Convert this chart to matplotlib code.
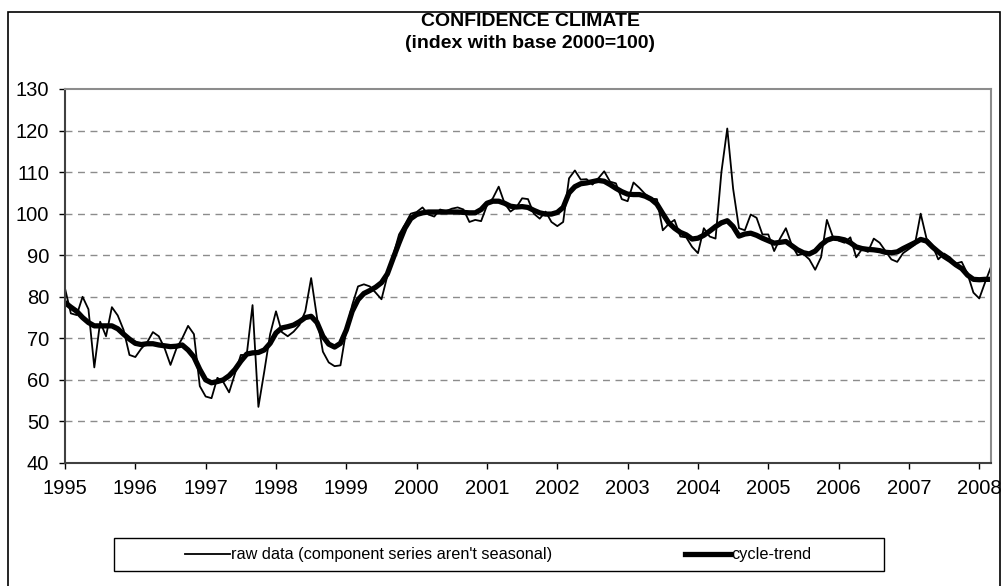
import numpy as np
import matplotlib as mpl
mpl.use('Agg')
import matplotlib.pyplot as plt
from matplotlib.patches import Rectangle
from matplotlib.lines import Line2D

plt.rc('font', family='Liberation Sans')

# monthly values, Jan 1995 .. Mar 2008
raw_data = [
    82, 76, 75.6, 80, 77, 63, 74, 70.5, 77.5, 75.5, 72, 66,
    65.5, 67.5, 69, 71.5, 70.5, 67.6, 63.6, 67.5, 70, 73, 71, 58.5,
    56, 55.6, 60.5, 59.5, 57, 61.5, 66, 66, 78, 53.5, 62, 71,
    76.5, 71.5, 70.5, 71.6, 73.2, 76.5, 84.5, 75, 66.8, 64.2, 63.3, 63.5,
    72, 78, 82.5, 83, 82.5, 81, 79.4, 85, 90, 95, 97.4, 100,
    100.4, 101.5, 99.8, 99.3, 101, 100.6, 101.2, 101.5, 101, 98, 98.5, 98.2,
    102, 103.7, 106.5, 102.5, 100.5, 101.5, 103.7, 103.5, 100, 98.8, 100.5, 98,
    97, 98, 108.5, 110.4, 108.2, 108.3, 107, 108.5, 110.2, 107.7, 107.3, 103.5,
    103, 107.5, 106.2, 104.7, 103.6, 103.5, 96, 97.5, 98.5, 94.5, 94.3, 92,
    90.5, 96.5, 94.5, 94, 110, 120.5, 106, 96.5, 96, 99.8, 99, 95,
    95, 91, 94, 96.5, 92.5, 90, 90.3, 89, 86.5, 89.5, 98.5, 94.5,
    93.5, 93, 94.3, 89.5, 91.5, 90.8, 94, 93, 91, 89, 88.4, 90.5,
    91.5, 92.5, 100, 94, 92.4, 89, 90.4, 89.5, 88, 88.4, 85.5, 81,
    79.6, 83.5, 87.2,
]

cycle_trend = [
    78.6, 77.5, 76.5, 75, 73.8, 73, 73, 73, 73, 72.3, 71, 69.8,
    68.8, 68.5, 68.7, 68.7, 68.4, 68.2, 68, 68.1, 68.4, 67.2, 65.5, 62.5,
    60, 59.3, 59.6, 60, 61, 62.5, 64.5, 66.2, 66.5, 66.6, 67.2, 68.8,
    71.3, 72.5, 72.8, 73.2, 74, 75, 75.3, 73.8, 70.5, 68.6, 67.9, 68.8,
    72, 76.5, 79.3, 80.8, 81.5, 82.3, 83.4, 85.5, 89.3, 93, 96.5, 98.8,
    99.8, 100.2, 100.4, 100.4, 100.4, 100.4, 100.4, 100.4, 100.3, 100.2, 100.2, 101,
    102.5, 103, 103, 102.5, 101.8, 101.6, 101.7, 101.5, 100.8, 100.2, 99.9, 99.9,
    100.3, 101.5, 105, 106.5, 107.2, 107.4, 107.7, 108, 107.8, 107, 106.1, 105.3,
    104.7, 104.6, 104.6, 104.2, 103.5, 102.3, 100, 97.8, 96.5, 95.5, 94.9, 93.9,
    94.1, 94.8, 95.8, 96.9, 97.8, 98.3, 96.9, 94.6, 95.1, 95.3, 94.8, 94.1,
    93.5, 92.9, 93.1, 93.3, 92.3, 91.3, 90.6, 90.3, 91, 92.5, 93.6, 94.1,
    94, 93.7, 93, 92, 91.6, 91.4, 91.3, 91.1, 90.7, 90.6, 90.8, 91.6,
    92.3, 93, 93.8, 93.4, 92, 90.8, 89.7, 88.8, 87.7, 86.8, 85.2, 84.2,
    84.1, 84.2, 84.2,
]

years = list(range(1995, 2009))
months = np.arange(len(raw_data))

W, H = 1005, 586
fig = plt.figure(figsize=(W / 100, H / 100), dpi=100)
ax = fig.add_axes([65 / W, 1 - 463 / H, 926 / W, 374 / H])

ax.plot(months, raw_data, '-', color='black', lw=1.3, solid_joinstyle='round')
ax.plot(months, cycle_trend, '-', color='black', lw=3.8, solid_joinstyle='round',
        solid_capstyle='round')

ax.set_xlim(0, len(raw_data) - 1)
ax.set_ylim(40, 130)
ax.set_xticks(np.arange(len(years)) * 12)
ax.set_xticklabels([str(y) for y in years])
ax.set_yticks(np.arange(40, 131, 10))
ax.tick_params(labelsize=14.5, length=4.3, width=1, direction='out', pad=7, color='black')

for v in range(50, 130, 10):
    ax.axhline(v, color='#8c8c8c', lw=1, dashes=(5, 4), zorder=0)

for s in ['top', 'right']:
    ax.spines[s].set_color('#8c8c8c')
    ax.spines[s].set_linewidth(1.5)
for s in ['left', 'bottom']:
    ax.spines[s].set_color('#404040')
    ax.spines[s].set_linewidth(1.5)

fig.text(530 / W, 1 - 22 / H, 'CONFIDENCE CLIMATE', ha='center', va='center',
         fontsize=14, fontweight='bold')
fig.text(530 / W, 1 - 44 / H, '(index with base 2000=100)', ha='center', va='center',
         fontsize=14, fontweight='bold')

# outer chart border
fig.add_artist(Rectangle((8 / W, -0.01), 992 / W, 1 - 12 / H + 0.01, transform=fig.transFigure,
                         fill=False, edgecolor='black', lw=1.2))

# legend box
fig.add_artist(Rectangle((114 / W, 1 - 571 / H), 770 / W, 33 / H, transform=fig.transFigure,
                         fill=False, edgecolor='black', lw=1))
ly = 1 - 554 / H
fig.add_artist(Line2D([185 / W, 230 / W], [ly, ly], transform=fig.transFigure,
                      color='black', lw=1.3))
fig.text(231 / W, ly, "raw data (component series aren't seasonal)", ha='left', va='center',
         fontsize=11.7)
fig.add_artist(Line2D([685 / W, 730 / W], [ly, ly], transform=fig.transFigure,
                      color='black', lw=3.8))
fig.text(731 / W, ly, 'cycle-trend', ha='left', va='center', fontsize=11.7)

plt.savefig('out.png', dpi=100)
